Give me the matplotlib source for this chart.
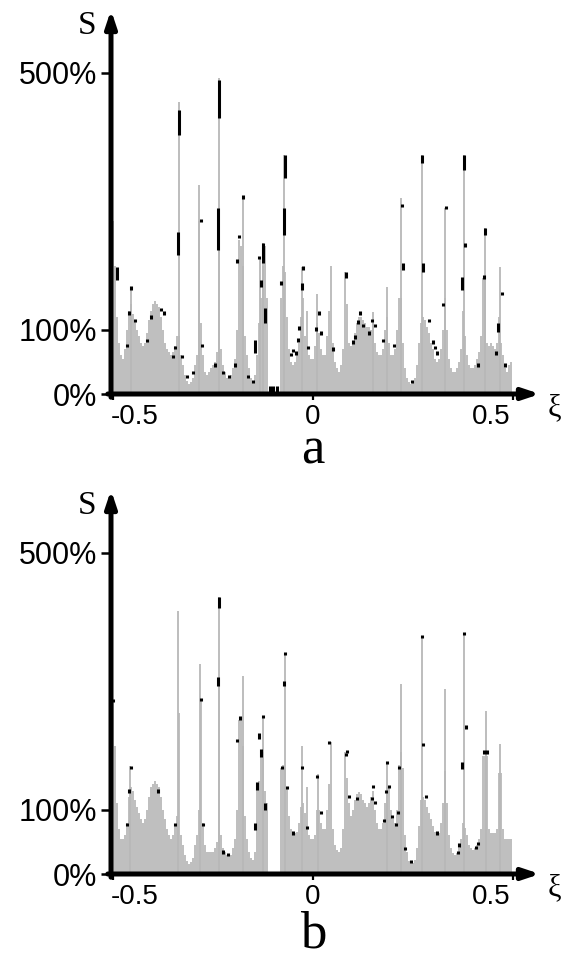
import numpy as np
import matplotlib
matplotlib.use("Agg")
import matplotlib.pyplot as plt

plt.rcParams['font.family'] = ['Liberation Sans', 'DejaVu Sans']

# ---------------- data ----------------
bin_width = 0.005
xi_start = -0.5025

top_profile = [
    270, 200, 120, 80, 60, 55, 70, 100, 130, 140, 125, 115, 100, 90, 80, 75, 80, 95, 115, 130,
    140, 145, 140, 135, 120, 100, 80, 70, 65, 60, 65, 75, 90, 90, 60, 45, 30, 20, 15, 18,
    25, 45, 60, 270, 110, 60, 35, 30, 35, 40, 45, 50, 65, 280, 70, 45, 35, 25, 25, 30,
    40, 55, 100, 240, 230, 200, 90, 60, 40, 25, 20, 30, 60, 110, 150, 200, 230, 150, 0, 0,
    0, 0, 0, 0, 150, 200, 190, 120, 70, 50, 45, 50, 60, 80, 120, 150, 90, 130, 60, 55,
    55, 75, 110, 95, 70, 60, 60, 90, 130, 200, 80, 50, 40, 35, 45, 70, 190, 140, 80, 75,
    80, 95, 110, 120, 120, 115, 110, 105, 105, 100, 110, 80, 65, 60, 60, 70, 100, 120, 80, 60,
    60, 70, 100, 150, 150, 80, 40, 25, 18, 15, 18, 25, 45, 80, 110, 120, 115, 105, 95, 80,
    70, 55, 50, 55, 70, 100, 150, 100, 55, 40, 35, 35, 40, 50, 70, 130, 90, 60, 45, 40,
    40, 45, 55, 65, 90, 180, 180, 80, 75, 80, 75, 70, 80, 120, 80, 60, 40, 35, 45, 50,
]
bottom_profile = [
    270, 200, 110, 70, 55, 55, 60, 80, 120, 135, 130, 115, 105, 95, 85, 80, 85, 100, 120, 135,
    140, 145, 140, 135, 120, 100, 85, 70, 60, 55, 60, 75, 90, 250, 60, 45, 30, 20, 15, 18,
    25, 45, 60, 100, 270, 80, 45, 35, 35, 35, 35, 40, 50, 300, 60, 40, 35, 30, 28, 30,
    40, 55, 100, 240, 245, 200, 90, 55, 35, 25, 22, 35, 140, 145, 190, 190, 130, 110, 0, 0,
    0, 0, 0, 0, 165, 170, 165, 135, 90, 70, 64, 64, 65, 80, 105, 110, 95, 136, 60, 55,
    55, 60, 100, 100, 80, 70, 70, 100, 140, 205, 70, 45, 38, 35, 40, 70, 190, 150, 110, 90,
    100, 115, 125, 127, 125, 115, 110, 105, 110, 120, 130, 100, 80, 70, 70, 80, 110, 136, 136, 100,
    85, 80, 100, 170, 190, 165, 60, 35, 20, 17, 17, 22, 40, 75, 115, 120, 115, 105, 95, 85,
    75, 66, 64, 64, 80, 110, 160, 110, 60, 40, 32, 30, 32, 40, 55, 80, 72, 60, 45, 40,
    38, 40, 45, 55, 70, 183, 183, 183, 70, 64, 64, 64, 70, 158, 158, 70, 55, 55, 55, 55,
]

top_spike_xi = [-0.455, -0.336, -0.285, -0.235, -0.175, -0.1325, -0.125, -0.0725, -0.0275,
                0.010, 0.150, 0.185, 0.220, 0.2725, 0.330, 0.3775, 0.430, 0.4675]
top_spike_s = [165, 455, 325, 492, 307, 213, 235, 372, 198,
               155, 128, 167, 305, 372, 290, 372, 258, 198]

bottom_spike_xi = [-0.4575, -0.3375, -0.2825, -0.236, -0.175, -0.125, -0.070, -0.0275,
                   0.0125, 0.185, 0.220, 0.2725, 0.330, 0.3775, 0.4325, 0.4675]
bottom_spike_s = [168, 409, 327, 432, 309, 245, 343, 199,
                  155, 174, 296, 370, 288, 375, 254, 202]

top_dash_xi = [-0.491, -0.335, -0.338, -0.235, -0.238, -0.125, -0.130, -0.120, -0.145,
               -0.108, -0.099, -0.090, -0.070, -0.0725, -0.0275, 0.0825, 0.225, 0.2725,
               0.275, 0.3775, 0.3725, 0.430, 0.4625]
top_dash_lo = [178, 403, 216, 430, 224, 204, 167, 111, 64, 0, 0, 0, 336, 248, 162, 181,
               193, 360, 190, 349, 162, 248, 97]
top_dash_hi = [198, 442, 252, 489, 290, 235, 178, 134, 84, 12, 12, 12, 372, 290, 173, 190,
               204, 372, 204, 372, 182, 259, 111]

top_dot_xi = [-0.455, -0.460, -0.445, -0.465, -0.416, -0.405, -0.380, -0.373, -0.345, -0.350,
              -0.328, -0.315, -0.300, -0.280, -0.278, -0.245, -0.225, -0.210, -0.175, -0.185,
              -0.190, -0.195, -0.163, -0.150, -0.135, -0.080, -0.055, -0.050, -0.0425, -0.025,
              -0.035, -0.0375, -0.0125, 0.015, 0.0075, 0.020, 0.050, 0.100, 0.105, 0.1125,
              0.1175, 0.125, 0.140, 0.1475, 0.155, 0.175, 0.2025, 0.2225, 0.2475, 0.290,
              0.300, 0.305, 0.310, 0.3325, 0.325, 0.380, 0.4125, 0.4275, 0.4725, 0.4575, 0.480]
top_dot_s = [165, 126, 114, 76, 83, 120, 132, 126, 72, 58,
             58, 27, 33, 270, 76, 45, 33, 27, 307, 245,
             207, 45, 27, 19, 213, 173, 61, 68, 64, 196,
             103, 84, 72, 126, 101, 95, 70, 81, 89, 112,
             126, 107, 95, 114, 107, 83, 76, 294, 19, 114,
             81, 72, 64, 290, 139, 232, 45, 182, 157, 64, 45]

bottom_dash_xi = [-0.235, -0.2375, -0.135, -0.130, -0.140, -0.120, -0.145, -0.0725, 0.3725]
bottom_dash_lo = [415, 293, 210, 182, 131, 100, 69, 293, 163]
bottom_dash_hi = [432, 307, 220, 194, 143, 111, 80, 301, 174]

bottom_dot_xi = [-0.500, -0.455, -0.460, -0.465, -0.3875, -0.345, -0.280, -0.275, -0.225, -0.2125,
                 -0.1825, -0.190, -0.125, -0.070, -0.0775, -0.065, -0.050, -0.0275, -0.015, 0.010,
                 0.020, 0.040, 0.0825, 0.085, 0.090, 0.110, 0.1475, 0.150, 0.155, 0.1775,
                 0.185, 0.1825, 0.190, 0.1975, 0.2075, 0.2125, 0.215, 0.230, 0.245, 0.2725,
                 0.275, 0.2825, 0.310, 0.3625, 0.365, 0.3775, 0.3825, 0.4075, 0.4125, 0.4275, 0.435]
bottom_dot_s = [270, 166, 129, 77, 129, 77, 272, 77, 34, 30,
                243, 208, 245, 343, 166, 135, 64, 166, 72, 152,
                96, 205, 186, 191, 121, 118, 118, 136, 111, 83,
                174, 128, 136, 90, 77, 96, 166, 40, 19, 370,
                202, 121, 64, 33, 45, 375, 229, 41, 48, 190, 190]

ytick_values = [0, 100, 500]
ytick_labels = ['0%', '100%', '500%']
xtick_values = [-0.5, 0, 0.5]
xtick_labels = ['-0.5', '0', '0.5']
xtick_label_pos = [-0.445, 0.0, 0.445]

# ---------------- drawing ----------------
W, H = 561, 960
fig = plt.figure(figsize=(W / 100, H / 100), dpi=100)

GRAY = '#bfbfbf'
SPIKE = '#b8b8b8'
XMIN, XMAX = -0.505, 0.5675
YMAX = 598


def panel(y_zero_px, profile, sp_xi, sp_s, dot_xi, dot_s, d_xi, d_lo, d_hi, letter, letter_s):
    ax = fig.add_axes([111 / W, 1 - y_zero_px / H, (540 - 111) / W, 384 / H])
    ax.set_xlim(XMIN, XMAX)
    ax.set_ylim(0, YMAX)
    for s in ax.spines.values():
        s.set_visible(False)

    edges = xi_start + bin_width * np.arange(len(profile) + 1)
    ax.stairs(profile, edges, fill=True, color=GRAY, linewidth=0)
    ax.vlines(sp_xi, 0, sp_s, colors=SPIKE, linewidth=1.3)

    dot_s = np.asarray(dot_s, dtype=float)
    ax.vlines(dot_xi, dot_s - 2.6, dot_s + 2.6, colors='black', linewidth=2.2)
    ax.vlines(d_xi, d_lo, d_hi, colors='black', linewidth=2.2)

    # axes lines with arrows
    ax.annotate('', xy=(XMIN, YMAX), xytext=(XMIN, -5),
                arrowprops=dict(arrowstyle='-|>,head_length=0.9,head_width=0.3',
                                lw=3.6, color='black', mutation_scale=11,
                                shrinkA=0, shrinkB=0),
                annotation_clip=False)
    ax.annotate('', xy=(XMAX, 0), xytext=(XMIN - 0.008, 0),
                arrowprops=dict(arrowstyle='-|>,head_length=0.9,head_width=0.3',
                                lw=3.6, color='black', mutation_scale=11,
                                shrinkA=0, shrinkB=0),
                annotation_clip=False)

    ax.set_yticks(ytick_values, labels=ytick_labels)
    ax.tick_params(axis='y', direction='out', length=7.2, width=1.8, pad=2.9,
                   labelsize=22, colors='black')
    ax.set_xticks(xtick_values, labels=['', '', ''])
    ax.tick_params(axis='x', direction='out', length=4.5, width=1.6, colors='black')

    for xv, lab in zip(xtick_label_pos, xtick_labels):
        ax.text(xv, -36, lab, ha='center', va='center', fontsize=20, clip_on=False)

    ax.text(-0.565, 573, 'S', ha='center', va='center', fontsize=24,
            family=['Liberation Serif', 'DejaVu Serif'], clip_on=False)
    ax.text(0.6025, -22, 'ξ', ha='center', va='center', fontsize=22,
            family=['Liberation Serif', 'DejaVu Serif'], clip_on=False)
    ax.text(0.0, letter_s, letter, ha='center', va='baseline', fontsize=38,
            family=['Liberation Serif', 'DejaVu Serif'], clip_on=False)
    return ax


panel(394, top_profile, top_spike_xi, top_spike_s, top_dot_xi, top_dot_s,
      top_dash_xi, top_dash_lo, top_dash_hi, 'a', -109)
panel(874, bottom_profile, bottom_spike_xi, bottom_spike_s, bottom_dot_xi, bottom_dot_s,
      bottom_dash_xi, bottom_dash_lo, bottom_dash_hi, 'b', -114)

fig.savefig('out.png', dpi=100, facecolor='white')
